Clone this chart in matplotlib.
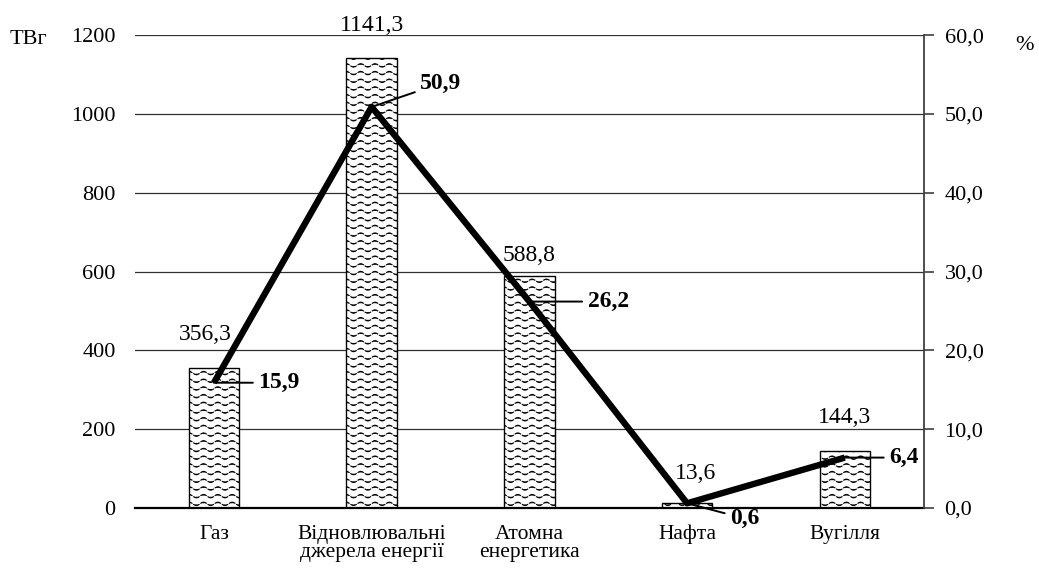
import warnings
warnings.filterwarnings("ignore")
import numpy as np
import matplotlib
matplotlib.use("Agg")
import matplotlib.pyplot as plt
from matplotlib import hatch as mhatch
from matplotlib.path import Path
from matplotlib.ticker import FuncFormatter

plt.rcParams['font.family'] = ['Liberation Serif', 'DejaVu Serif']
plt.rcParams['hatch.linewidth'] = 0.8


class WaveHatch(mhatch.HatchPatternBase):
    """Wavy, broken-line hatch (one half-wave per dash)."""
    def __init__(self, hatch, density):
        n = hatch.count('~')
        self.rows = int(round(n * density * 2.2)) if n else 0
        self.periods = 7
        self.seg_pts = 5
        self.segs = self.periods * 2
        self.num_vertices = self.rows * self.segs * self.seg_pts

    def set_vertices_and_codes(self, vertices, codes):
        half = 1.0 / self.segs
        idx = 0
        for r in range(self.rows):
            y0 = (r + 0.5) / self.rows
            for s in range(self.segs):
                t = np.linspace(s * half + 0.12 * half, (s + 1) * half - 0.12 * half, self.seg_pts)
                vertices[idx:idx + self.seg_pts, 0] = t
                vertices[idx:idx + self.seg_pts, 1] = y0 + 0.017 * np.sin(2 * np.pi * self.periods * t)
                codes[idx:idx + self.seg_pts] = Path.LINETO
                codes[idx] = Path.MOVETO
                idx += self.seg_pts


mhatch._hatch_types.append(WaveHatch)

categories = ["Газ", "Відновлювальні\nджерела енергії", "Атомна\nенергетика", "Нафта", "Вугілля"]
twh = [356.3, 1141.3, 588.8, 13.6, 144.3]
share = [15.9, 50.9, 26.2, 0.6, 6.4]
bar_labels = ["356,3", "1141,3", "588,8", "13,6", "144,3"]
share_labels = ["15,9", "50,9", "26,2", "0,6", "6,4"]

fig = plt.figure(figsize=(10.39, 5.68), dpi=100)
ax = fig.add_axes([0.13, 0.1056, 0.759, 0.8324])
x = list(range(len(categories)))

ax.set_ylim(0, 1200)
ax.set_xlim(-0.5, 4.5)
ax.set_yticks(range(0, 1201, 200))
ax.grid(axis='y', color='#303030', linewidth=0.9)
ax.set_axisbelow(True)
ax.bar(x, twh, width=0.32, color='white', edgecolor='black', hatch='~', linewidth=1.0, zorder=2)

bar_label_offsets = [(-6, 20), (0, 20), (0, 11), (6, 17), (0, 20)]
for xi, v, lab, off in zip(x, twh, bar_labels, bar_label_offsets):
    ax.annotate(lab, xy=(xi, v), xytext=off, textcoords='offset points',
                ha='center', va='baseline', fontsize=17)

for s in ['left', 'top', 'right']:
    ax.spines[s].set_visible(False)
ax.spines['bottom'].set_linewidth(1.6)
ax.tick_params(axis='y', length=0, labelsize=16, pad=14)
ax.tick_params(axis='x', length=0, labelsize=15.5, pad=12)
ax.set_xticks(x)
ax.set_xticklabels(categories, linespacing=0.95)

ax2 = ax.twinx()
ax2.set_ylim(0, 60)
ax2.set_yticks(range(0, 61, 10))
ax2.yaxis.set_major_formatter(FuncFormatter(lambda v, p: f"{v:.1f}".replace('.', ',')))
ax2.tick_params(axis='y', length=7, width=1.2, color='#404040', labelsize=16, pad=8)
for s in ['left', 'top', 'bottom']:
    ax2.spines[s].set_visible(False)
ax2.spines['right'].set_color('#404040')
ax2.spines['right'].set_linewidth(1.3)
ax2.plot(x, share, color='black', linewidth=4.6, solid_capstyle='butt', zorder=3)

offsets = [(32, 0), (35, 17), (42, 0), (31, -11), (32, 0)]
for xi, v, lab, off in zip(x, share, share_labels, offsets):
    ax2.annotate(lab, xy=(xi, v), xytext=off, textcoords='offset points',
                 ha='left', va='center', fontsize=17, fontweight='bold',
                 arrowprops=dict(arrowstyle='-', color='black', lw=1.4, shrinkA=2, shrinkB=0))

fig.text(10 / 1039, 1 - 40 / 568, "ТВг", fontsize=16, ha='left', va='center')
fig.text(1015 / 1039, 1 - 46 / 568, "%", fontsize=16, ha='left', va='center')

fig.savefig("out.png", dpi=100)
